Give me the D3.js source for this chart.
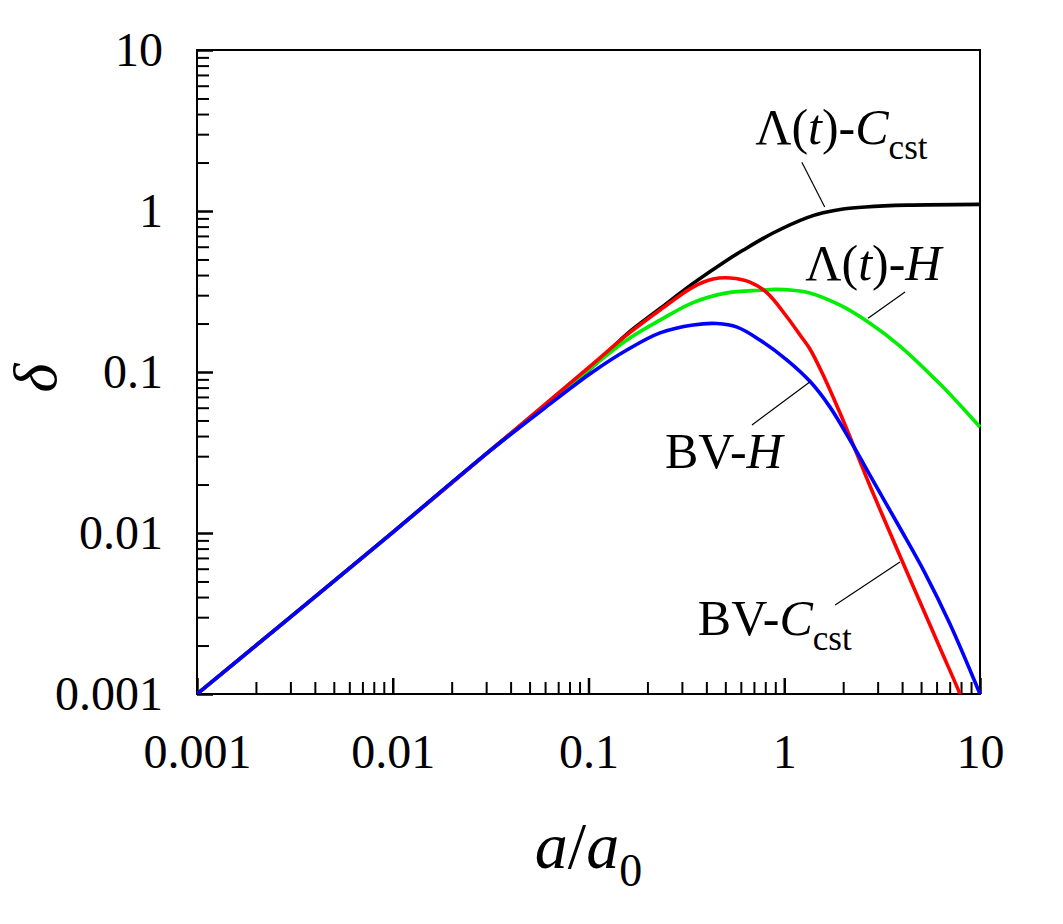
<!DOCTYPE html>
<html><head><meta charset="utf-8">
<script src="https://cdn.jsdelivr.net/npm/d3@7"></script>
<style>body{margin:0;background:#fff}svg{display:block}text{font-family:"Liberation Serif","DejaVu Serif",serif;fill:#000}</style>
</head><body><svg id="c" width="1063" height="924"></svg>
<script>
// ---- data (a/a0 , delta) ----
const blackA = [0.001,0.003,0.01,0.03,0.105,0.157,0.232,0.342,0.51,0.615,0.877,1.31,1.58,2.0,2.6,4.24,10];
const blackD = [0.001,0.003,0.0101,0.031,0.108,0.172,0.248,0.355,0.495,0.57,0.73,0.91,0.975,1.03,1.06,1.087,1.1];
const greenA = [0.001,0.003,0.01,0.03,0.105,0.157,0.232,0.342,0.51,0.751,0.9,1.11,1.35,1.93,2.74,3.9,6.25,7.9,10];
const greenD = [0.001,0.003,0.0101,0.031,0.108,0.158,0.21,0.27,0.31,0.322,0.326,0.322,0.31,0.26,0.201,0.145,0.0842,0.0624,0.0455];
const redA = [0.001,0.003,0.01,0.03,0.105,0.157,0.232,0.342,0.433,0.53,0.668,0.817,1.033,1.204,1.353,1.615,1.927,2.167,2.742,3.902,4.937,6.247,7.9,8.5];
const redD = [0.001,0.003,0.0101,0.031,0.112,0.17,0.243,0.337,0.378,0.384,0.362,0.31,0.2196,0.1697,0.139,0.0905,0.0556,0.0395,0.0196,0.0072,0.00373,0.00193,0.001,0.00078];
const blueA = [0.001,0.003,0.01,0.03,0.06,0.105,0.157,0.232,0.342,0.453,0.574,0.751,1.033,1.353,1.713,2.167,2.909,3.902,5.236,7.025,10];
const blueD = [0.001,0.003,0.0101,0.031,0.06,0.1,0.137,0.175,0.196,0.2,0.19,0.158,0.1187,0.0875,0.0605,0.0378,0.0201,0.01074,0.00564,0.00272,0.001];
const majorTicks = [0.001,0.01,0.1,1,10];
const tickLabels = ["0.001","0.01","0.1","1","10"];
// annotation leaders [a1,d1,a2,d2]
const leaders = [[1.23,2.01,1.61,1.06],[4.14,0.314,2.68,0.216],[0.684,0.0469,1.35,0.0867],[1.82,0.00357,3.9,0.0066]];

const svg = d3.select("#c");
const L=197,R=980,T=50,B=694;
const x = d3.scaleLog().domain([0.001,10]).range([L,R]);
const y = d3.scaleLog().domain([0.001,10]).range([B,T]);
const minor = [];
for(let e=-3;e<1;e++) for(let m=2;m<=9;m++) minor.push(m*Math.pow(10,e));

// minor ticks
svg.append("g").attr("transform",`translate(0,${B})`).call(d3.axisBottom(x).tickValues(minor).tickSize(-12).tickFormat(""))
  .call(g=>{g.select(".domain").remove();g.selectAll("line").attr("stroke","#000").attr("stroke-width",2);});
svg.append("g").attr("transform",`translate(${L},0)`).call(d3.axisLeft(y).tickValues(minor).tickSize(-12).tickFormat(""))
  .call(g=>{g.select(".domain").remove();g.selectAll("line").attr("stroke","#000").attr("stroke-width",2);});
// major ticks + labels
svg.append("g").attr("transform",`translate(0,${B})`).call(d3.axisBottom(x).tickValues(majorTicks).tickSize(-16).tickPadding(40).tickFormat((d,i)=>tickLabels[i]))
  .call(g=>{g.select(".domain").remove();g.selectAll("line").attr("stroke","#000").attr("stroke-width",2.5);
    g.selectAll("text").attr("font-size",48).attr("font-family","Liberation Serif");});
svg.append("g").attr("transform",`translate(${L},0)`).call(d3.axisLeft(y).tickValues(majorTicks).tickSize(-16).tickPadding(34).tickFormat((d,i)=>tickLabels[i]))
  .call(g=>{g.select(".domain").remove();g.selectAll("line").attr("stroke","#000").attr("stroke-width",2.5);
    g.selectAll("text").attr("font-size",48).attr("font-family","Liberation Serif");});

// frame
svg.append("rect").attr("x",L).attr("y",T).attr("width",R-L).attr("height",B-T).attr("fill","none").attr("stroke","#000").attr("stroke-width",2);

const line = d3.line().x(d=>x(d[0])).y(d=>y(d[1])).curve(d3.curveCatmullRom.alpha(0.5));
const series = [[blackA,blackD,"#000000"],[greenA,greenD,"#00ee00"],[redA,redD,"#ff0000"],[blueA,blueD,"#0000ff"]];
svg.append("clipPath").attr("id","cp").append("rect").attr("x",L).attr("y",T-2).attr("width",R-L+2).attr("height",B-T+2);
series.forEach(([A,D,c])=>{
  svg.append("path").attr("clip-path","url(#cp)").datum(A.map((a,i)=>[a,D[i]])).attr("d",line)
    .attr("fill","none").attr("stroke",c).attr("stroke-width",3.6).attr("stroke-linejoin","round");
});

// leaders
svg.selectAll(".ld").data(leaders).join("line").attr("x1",d=>x(d[0])).attr("y1",d=>y(d[1])).attr("x2",d=>x(d[2])).attr("y2",d=>y(d[3]))
  .attr("stroke","#000").attr("stroke-width",1.2);

// labels
function label(a,d,parts){
  const t = svg.append("text").attr("x",x(a)).attr("y",y(d)).attr("font-size",50);
  parts.forEach(p=>{
    const s=t.append("tspan").text(p.t);
    if(p.i) s.attr("font-style","italic");
    if(p.sub) s.attr("font-size",35).attr("dy",15);
  });
}
label(0.71,2.62,[{t:"Λ("},{t:"t",i:1},{t:")-"},{t:"C",i:1},{t:"cst",sub:1}]);
label(1.28,0.372,[{t:"Λ("},{t:"t",i:1},{t:")-"},{t:"H",i:1}]);
label(0.246,0.0254,[{t:"BV-"},{t:"H",i:1}]);
label(0.362,0.00232,[{t:"BV-"},{t:"C",i:1},{t:"cst",sub:1}]);

// axis titles
const xt = svg.append("text").attr("x",(L+R)/2).attr("y",868).attr("text-anchor","middle").attr("font-size",66);
xt.append("tspan").text("a").attr("font-style","italic");
xt.append("tspan").text("/");
xt.append("tspan").text("a").attr("font-style","italic");
xt.append("tspan").text("0").attr("font-size",46).attr("dy",18);
svg.append("text").attr("transform",`translate(56,${(T+B)/2+6}) rotate(-90)`).attr("text-anchor","middle")
  .attr("font-size",62).attr("font-style","italic").text("δ");
</script></body></html>
